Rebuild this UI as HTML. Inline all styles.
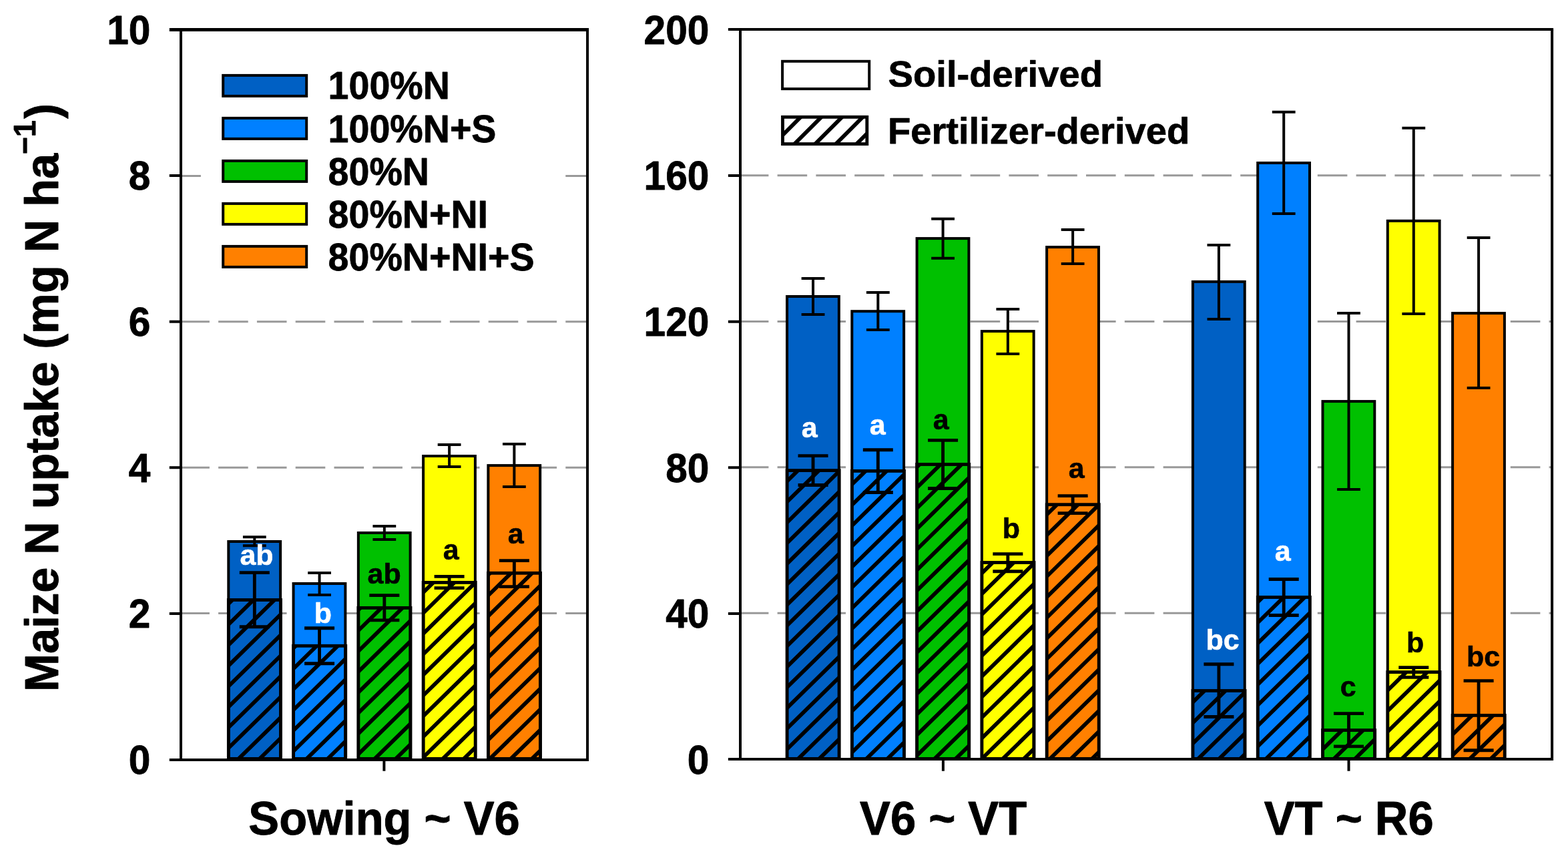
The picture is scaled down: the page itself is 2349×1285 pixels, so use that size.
<!DOCTYPE html>
<html lang="en"><head><meta charset="utf-8"><title>Maize N uptake</title>
<style>html,body{margin:0;padding:0;background:#fff;overflow:hidden}svg{display:block}text{font-family:"Liberation Sans", sans-serif;font-weight:bold;fill:#000;stroke:#000;stroke-linejoin:round}.t{font-size:58.6px;text-anchor:end;stroke-width:.8}.x{font-size:68.7px;text-anchor:middle;stroke-width:.9}.y{font-size:68.45px;text-anchor:start;stroke-width:.9}.l{font-size:55.6px;stroke-width:.75}.m{font-size:56.15px;stroke-width:.75}.s{font-size:43px;text-anchor:middle;stroke-width:.6}.es{stroke:#000;stroke-width:4;fill:none}.eh{stroke:#000;stroke-width:4.85;fill:none}.g{stroke:#999999;stroke-width:3;stroke-dasharray:44.6 13.2;fill:none}.h{stroke:#000;stroke-width:5.8;fill:none}.b{stroke:#000;stroke-width:4}.hb{stroke:#000;stroke-width:4.85;fill:none}.a{stroke:#000;stroke-width:4;fill:none}</style></head><body>
<svg width="2349" height="1285" viewBox="0 0 2349 1285">
<rect width="2349" height="1285" fill="#fff"/>
<line class="g" x1="269.3" y1="918.5" x2="880.05" y2="918.5"/>
<line class="g" x1="269.3" y1="700.3" x2="880.05" y2="700.3"/>
<line class="g" x1="269.3" y1="481.7" x2="880.05" y2="481.7"/>
<line class="g" x1="269.3" y1="263.5" x2="880.05" y2="263.5"/>
<line class="g" x1="1106.8" y1="918.3" x2="2325.1" y2="918.3"/>
<line class="g" x1="1106.8" y1="699.8" x2="2325.1" y2="699.8"/>
<line class="g" x1="1106.8" y1="481.5" x2="2325.1" y2="481.5"/>
<line class="g" x1="1106.8" y1="262.8" x2="2325.1" y2="262.8"/>
<defs>
<clipPath id="c0"><rect x="342.35" y="898.5" width="78.1" height="237.9"/></clipPath>
<clipPath id="c1"><rect x="439.62" y="967.3" width="78.1" height="169.1"/></clipPath>
<clipPath id="c2"><rect x="536.89" y="910.4" width="78.1" height="226"/></clipPath>
<clipPath id="c3"><rect x="634.16" y="872.4" width="78.1" height="264"/></clipPath>
<clipPath id="c4"><rect x="731.43" y="858.3" width="78.1" height="278.1"/></clipPath>
<clipPath id="c5"><rect x="1179.1" y="704.6" width="78.1" height="431.8"/></clipPath>
<clipPath id="c6"><rect x="1276.37" y="705.4" width="78.1" height="431"/></clipPath>
<clipPath id="c7"><rect x="1373.64" y="695.5" width="78.1" height="440.9"/></clipPath>
<clipPath id="c8"><rect x="1470.91" y="842.5" width="78.1" height="293.9"/></clipPath>
<clipPath id="c9"><rect x="1568.18" y="755.7" width="78.1" height="380.7"/></clipPath>
<clipPath id="c10"><rect x="1786.95" y="1034.5" width="78.1" height="101.9"/></clipPath>
<clipPath id="c11"><rect x="1884.25" y="894.5" width="78.1" height="241.9"/></clipPath>
<clipPath id="c12"><rect x="1981.55" y="1093.6" width="78.1" height="42.8"/></clipPath>
<clipPath id="c13"><rect x="2078.85" y="1006.6" width="78.1" height="129.8"/></clipPath>
<clipPath id="c14"><rect x="2176.15" y="1071.4" width="78.1" height="65"/></clipPath>
<clipPath id="cl"><rect x="1172.5" y="175.3" width="126.3" height="40.3"/></clipPath>
<clipPath id="cs"><rect x="1320" y="70" width="340" height="60.3"/></clipPath>
</defs>
<rect class="b" x="342.3" y="811" width="77.8" height="325.4" fill="#0060C4"/>
<path class="h" clip-path="url(#c0)" d="M341.35 905.21L421.45 826.71M341.35 936.08L421.45 857.58M341.35 966.95L421.45 888.45M341.35 997.82L421.45 919.32M341.35 1028.69L421.45 950.19M341.35 1059.56L421.45 981.06M341.35 1090.43L421.45 1011.93M341.35 1121.3L421.45 1042.8M341.35 1152.17L421.45 1073.67M341.35 1183.04L421.45 1104.54M341.35 1213.91L421.45 1135.41"/>
<rect class="hb" x="342.35" y="898.5" width="78.1" height="237.9"/>
<path class="eh" d="M358.8 857.6h45M358.8 938.7h45M381.3 857.6V938.7"/>
<path class="es" d="M363.9 804.2h34.8M363.9 817.3h34.8M381.3 804.2V817.3"/>
<rect class="b" x="439.57" y="874" width="77.8" height="262.4" fill="#0080FF"/>
<path class="h" clip-path="url(#c1)" d="M438.62 971.56L518.72 893.06M438.62 1002.43L518.72 923.93M438.62 1033.3L518.72 954.8M438.62 1064.17L518.72 985.67M438.62 1095.04L518.72 1016.54M438.62 1125.91L518.72 1047.41M438.62 1156.78L518.72 1078.28M438.62 1187.65L518.72 1109.15M438.62 1218.52L518.72 1140.02"/>
<rect class="hb" x="439.62" y="967.3" width="78.1" height="169.1"/>
<path class="eh" d="M456.07 940.7h45M456.07 993.7h45M478.57 940.7V993.7"/>
<path class="es" d="M461.17 858.1h34.8M461.17 891h34.8M478.57 858.1V891"/>
<rect class="b" x="536.84" y="798" width="77.8" height="338.4" fill="#00C000"/>
<path class="h" clip-path="url(#c2)" d="M535.89 914.43L615.99 835.93M535.89 945.3L615.99 866.8M535.89 976.17L615.99 897.67M535.89 1007.04L615.99 928.54M535.89 1037.91L615.99 959.41M535.89 1068.78L615.99 990.28M535.89 1099.65L615.99 1021.15M535.89 1130.52L615.99 1052.02M535.89 1161.39L615.99 1082.89M535.89 1192.26L615.99 1113.76"/>
<rect class="hb" x="536.89" y="910.4" width="78.1" height="226"/>
<path class="eh" d="M553.34 891.6h45M553.34 928.9h45M575.84 891.6V928.9"/>
<path class="es" d="M558.44 788.1h34.8M558.44 807.9h34.8M575.84 788.1V807.9"/>
<rect class="b" x="634.11" y="683" width="77.8" height="453.4" fill="#FFFF00"/>
<path class="h" clip-path="url(#c3)" d="M633.16 888.17L713.26 809.67M633.16 919.04L713.26 840.54M633.16 949.91L713.26 871.41M633.16 980.78L713.26 902.28M633.16 1011.65L713.26 933.15M633.16 1042.52L713.26 964.02M633.16 1073.39L713.26 994.89M633.16 1104.26L713.26 1025.76M633.16 1135.13L713.26 1056.63M633.16 1166L713.26 1087.5M633.16 1196.87L713.26 1118.37"/>
<rect class="hb" x="634.16" y="872.4" width="78.1" height="264"/>
<path class="eh" d="M650.61 863.4h45M650.61 880.6h45M673.11 863.4V880.6"/>
<path class="es" d="M655.71 665.9h34.8M655.71 699.1h34.8M673.11 665.9V699.1"/>
<rect class="b" x="731.38" y="697.1" width="77.8" height="439.3" fill="#FF8000"/>
<path class="h" clip-path="url(#c4)" d="M730.43 861.91L810.53 783.41M730.43 892.78L810.53 814.28M730.43 923.65L810.53 845.15M730.43 954.52L810.53 876.02M730.43 985.39L810.53 906.89M730.43 1016.26L810.53 937.76M730.43 1047.13L810.53 968.63M730.43 1078L810.53 999.5M730.43 1108.87L810.53 1030.37M730.43 1139.74L810.53 1061.24M730.43 1170.61L810.53 1092.11M730.43 1201.48L810.53 1122.98"/>
<rect class="hb" x="731.43" y="858.3" width="78.1" height="278.1"/>
<path class="eh" d="M747.88 839.6h45M747.88 878.6h45M770.38 839.6V878.6"/>
<path class="es" d="M752.98 665h34.8M752.98 729h34.8M770.38 665V729"/>
<rect class="b" x="1179.05" y="444" width="77.8" height="692.4" fill="#0060C4"/>
<path class="h" clip-path="url(#c5)" d="M1178.1 721.58L1258.2 643.08M1178.1 752.45L1258.2 673.95M1178.1 783.32L1258.2 704.82M1178.1 814.19L1258.2 735.69M1178.1 845.06L1258.2 766.56M1178.1 875.93L1258.2 797.43M1178.1 906.8L1258.2 828.3M1178.1 937.67L1258.2 859.17M1178.1 968.54L1258.2 890.04M1178.1 999.41L1258.2 920.91M1178.1 1030.28L1258.2 951.78M1178.1 1061.15L1258.2 982.65M1178.1 1092.02L1258.2 1013.52M1178.1 1122.89L1258.2 1044.39M1178.1 1153.76L1258.2 1075.26M1178.1 1184.63L1258.2 1106.13M1178.1 1215.5L1258.2 1137"/>
<rect class="hb" x="1179.1" y="704.6" width="78.1" height="431.8"/>
<path class="eh" d="M1195.55 682.6h45M1195.55 726.5h45M1218.05 682.6V726.5"/>
<path class="es" d="M1200.65 417h34.8M1200.65 470.9h34.8M1218.05 417V470.9"/>
<rect class="b" x="1276.32" y="466.2" width="77.8" height="670.2" fill="#0080FF"/>
<path class="h" clip-path="url(#c6)" d="M1275.37 726.38L1355.47 647.88M1275.37 757.25L1355.47 678.75M1275.37 788.12L1355.47 709.62M1275.37 818.99L1355.47 740.49M1275.37 849.86L1355.47 771.36M1275.37 880.73L1355.47 802.23M1275.37 911.6L1355.47 833.1M1275.37 942.47L1355.47 863.97M1275.37 973.34L1355.47 894.84M1275.37 1004.21L1355.47 925.71M1275.37 1035.08L1355.47 956.58M1275.37 1065.95L1355.47 987.45M1275.37 1096.82L1355.47 1018.32M1275.37 1127.69L1355.47 1049.19M1275.37 1158.56L1355.47 1080.06M1275.37 1189.43L1355.47 1110.93M1275.37 1220.3L1355.47 1141.8"/>
<rect class="hb" x="1276.37" y="705.4" width="78.1" height="431"/>
<path class="eh" d="M1292.82 673.7h45M1292.82 737.5h45M1315.32 673.7V737.5"/>
<path class="es" d="M1297.92 438.1h34.8M1297.92 493.9h34.8M1315.32 438.1V493.9"/>
<rect class="b" x="1373.59" y="357.1" width="77.8" height="779.3" fill="#00C000"/>
<path class="h" clip-path="url(#c7)" d="M1372.64 700.31L1452.74 621.81M1372.64 731.18L1452.74 652.68M1372.64 762.05L1452.74 683.55M1372.64 792.92L1452.74 714.42M1372.64 823.79L1452.74 745.29M1372.64 854.66L1452.74 776.16M1372.64 885.53L1452.74 807.03M1372.64 916.4L1452.74 837.9M1372.64 947.27L1452.74 868.77M1372.64 978.14L1452.74 899.64M1372.64 1009.01L1452.74 930.51M1372.64 1039.88L1452.74 961.38M1372.64 1070.75L1452.74 992.25M1372.64 1101.62L1452.74 1023.12M1372.64 1132.49L1452.74 1053.99M1372.64 1163.36L1452.74 1084.86M1372.64 1194.23L1452.74 1115.73"/>
<rect class="hb" x="1373.64" y="695.5" width="78.1" height="440.9"/>
<path class="eh" d="M1390.09 659.4h45M1390.09 731.5h45M1412.59 659.4V731.5"/>
<path class="es" d="M1395.19 327.8h34.8M1395.19 386.8h34.8M1412.59 327.8V386.8"/>
<rect class="b" x="1470.86" y="496.1" width="77.8" height="640.3" fill="#FFFF00"/>
<path class="h" clip-path="url(#c8)" d="M1469.91 859.46L1550.01 780.96M1469.91 890.33L1550.01 811.83M1469.91 921.2L1550.01 842.7M1469.91 952.07L1550.01 873.57M1469.91 982.94L1550.01 904.44M1469.91 1013.81L1550.01 935.31M1469.91 1044.68L1550.01 966.18M1469.91 1075.55L1550.01 997.05M1469.91 1106.42L1550.01 1027.92M1469.91 1137.29L1550.01 1058.79M1469.91 1168.16L1550.01 1089.66M1469.91 1199.03L1550.01 1120.53"/>
<rect class="hb" x="1470.91" y="842.5" width="78.1" height="293.9"/>
<path class="eh" d="M1487.36 829.6h45M1487.36 855.7h45M1509.86 829.6V855.7"/>
<path class="es" d="M1492.46 462.9h34.8M1492.46 530h34.8M1509.86 462.9V530"/>
<rect class="b" x="1568.13" y="370.1" width="77.8" height="766.3" fill="#FF8000"/>
<path class="h" clip-path="url(#c9)" d="M1567.18 771.65L1647.28 693.15M1567.18 802.52L1647.28 724.02M1567.18 833.39L1647.28 754.89M1567.18 864.26L1647.28 785.76M1567.18 895.13L1647.28 816.63M1567.18 926L1647.28 847.5M1567.18 956.87L1647.28 878.37M1567.18 987.74L1647.28 909.24M1567.18 1018.61L1647.28 940.11M1567.18 1049.48L1647.28 970.98M1567.18 1080.35L1647.28 1001.85M1567.18 1111.22L1647.28 1032.72M1567.18 1142.09L1647.28 1063.59M1567.18 1172.96L1647.28 1094.46M1567.18 1203.83L1647.28 1125.33"/>
<rect class="hb" x="1568.18" y="755.7" width="78.1" height="380.7"/>
<path class="eh" d="M1584.63 742.6h45M1584.63 768.6h45M1607.13 742.6V768.6"/>
<path class="es" d="M1589.73 344.1h34.8M1589.73 395.1h34.8M1607.13 344.1V395.1"/>
<rect class="b" x="1786.9" y="421.9" width="77.8" height="714.5" fill="#0060C4"/>
<path class="h" clip-path="url(#c10)" d="M1785.95 1052.64L1866.05 974.14M1785.95 1083.51L1866.05 1005.01M1785.95 1114.38L1866.05 1035.88M1785.95 1145.25L1866.05 1066.75M1785.95 1176.12L1866.05 1097.62M1785.95 1206.99L1866.05 1128.49"/>
<rect class="hb" x="1786.95" y="1034.5" width="78.1" height="101.9"/>
<path class="eh" d="M1803.4 994.7h45M1803.4 1073.5h45M1825.9 994.7V1073.5"/>
<path class="es" d="M1808.5 367h34.8M1808.5 478.1h34.8M1825.9 367V478.1"/>
<rect class="b" x="1884.2" y="244" width="77.8" height="892.4" fill="#0080FF"/>
<path class="h" clip-path="url(#c11)" d="M1883.25 902.65L1963.35 824.15M1883.25 933.52L1963.35 855.02M1883.25 964.39L1963.35 885.89M1883.25 995.26L1963.35 916.76M1883.25 1026.13L1963.35 947.63M1883.25 1057L1963.35 978.5M1883.25 1087.87L1963.35 1009.37M1883.25 1118.74L1963.35 1040.24M1883.25 1149.61L1963.35 1071.11M1883.25 1180.48L1963.35 1101.98M1883.25 1211.35L1963.35 1132.85"/>
<rect class="hb" x="1884.25" y="894.5" width="78.1" height="241.9"/>
<path class="eh" d="M1900.7 867.5h45M1900.7 921.5h45M1923.2 867.5V921.5"/>
<path class="es" d="M1905.8 167.8h34.8M1905.8 320h34.8M1923.2 167.8V320"/>
<rect class="b" x="1981.5" y="601.1" width="77.8" height="535.3" fill="#00C000"/>
<path class="h" clip-path="url(#c12)" d="M1980.55 1092.23L2060.65 1013.73M1980.55 1123.1L2060.65 1044.6M1980.55 1153.97L2060.65 1075.47M1980.55 1184.84L2060.65 1106.34M1980.55 1215.71L2060.65 1137.21"/>
<rect class="hb" x="1981.55" y="1093.6" width="78.1" height="42.8"/>
<path class="eh" d="M1998 1068.6h45M1998 1117.8h45M2020.5 1068.6V1117.8"/>
<path class="es" d="M2003.1 469h34.8M2003.1 733.1h34.8M2020.5 469V733.1"/>
<rect class="b" x="2078.8" y="330.8" width="77.8" height="805.6" fill="#FFFF00"/>
<path class="h" clip-path="url(#c13)" d="M2077.85 1003.98L2157.95 925.48M2077.85 1034.85L2157.95 956.35M2077.85 1065.72L2157.95 987.22M2077.85 1096.59L2157.95 1018.09M2077.85 1127.46L2157.95 1048.96M2077.85 1158.33L2157.95 1079.83M2077.85 1189.2L2157.95 1110.7M2077.85 1220.07L2157.95 1141.57"/>
<rect class="hb" x="2078.85" y="1006.6" width="78.1" height="129.8"/>
<path class="eh" d="M2095.3 999.6h45M2095.3 1014.3h45M2117.8 999.6V1014.3"/>
<path class="es" d="M2100.4 191.8h34.8M2100.4 470h34.8M2117.8 191.8V470"/>
<rect class="b" x="2176.1" y="469.1" width="77.8" height="667.3" fill="#FF8000"/>
<path class="h" clip-path="url(#c14)" d="M2175.15 1070.08L2255.25 991.58M2175.15 1100.95L2255.25 1022.45M2175.15 1131.82L2255.25 1053.32M2175.15 1162.69L2255.25 1084.19M2175.15 1193.56L2255.25 1115.06"/>
<rect class="hb" x="2176.15" y="1071.4" width="78.1" height="65"/>
<path class="eh" d="M2192.6 1019.6h45M2192.6 1123.7h45M2215.1 1019.6V1123.7"/>
<path class="es" d="M2197.7 355.9h34.8M2197.7 581h34.8M2215.1 355.9V581"/>
<text class="s" x="384.5" y="846.2" style="fill:#fff;stroke:#fff">ab</text>
<text class="s" x="483.9" y="933" style="fill:#fff;stroke:#fff">b</text>
<text class="s" x="575.6" y="874.1" style="fill:#000;stroke:#000">ab</text>
<text class="s" x="675.7" y="838.1" style="fill:#000;stroke:#000">a</text>
<text class="s" x="772.8" y="814.2" style="fill:#000;stroke:#000">a</text>
<text class="s" x="1212.6" y="655.2" style="fill:#fff;stroke:#fff">a</text>
<text class="s" x="1314.8" y="651.1" style="fill:#fff;stroke:#fff">a</text>
<text class="s" x="1409.8" y="643.2" style="fill:#000;stroke:#000">a</text>
<text class="s" x="1514.9" y="806" style="fill:#000;stroke:#000">b</text>
<text class="s" x="1612.8" y="715.9" style="fill:#000;stroke:#000">a</text>
<text class="s" x="1831.5" y="973" style="fill:#fff;stroke:#fff">bc</text>
<text class="s" x="1921.7" y="840" style="fill:#fff;stroke:#fff">a</text>
<text class="s" x="2019.6" y="1043" style="fill:#000;stroke:#000">c</text>
<text class="s" x="2120.2" y="977" style="fill:#000;stroke:#000">b</text>
<text class="s" x="2222.2" y="998.1" style="fill:#000;stroke:#000">bc</text>
<path class="a" d="M271 44.5V1138H880.05V44.5"/>
<path class="a" style="stroke-width:5" d="M253.8 44.5H882.05"/>
<path class="a" d="M253.8 1138H271M253.8 919H271M253.8 700.33H271M253.8 481.66H271M253.8 262.99H271M575.4 1138V1154.8"/>
<text class="t" transform="translate(225.4 1158.87) scale(1 1.04)">0</text>
<text class="t" transform="translate(225.4 940.2) scale(1 1.04)">2</text>
<text class="t" transform="translate(225.4 721.53) scale(1 1.04)">4</text>
<text class="t" transform="translate(225.4 502.86) scale(1 1.04)">6</text>
<text class="t" transform="translate(225.4 284.19) scale(1 1.04)">8</text>
<text class="t" transform="translate(225.4 65.52) scale(1 1.04)">10</text>
<text class="x" transform="translate(575.6 1250.45) scale(1 1.0345)">Sowing ~ V6</text>
<path class="a" d="M1109 44V1137H2325.1V44"/>
<path class="a" style="stroke-width:4" d="M1090.9 44H2327.1"/>
<path class="a" d="M1090.9 1137H1109M1090.9 919H1109M1090.9 700.33H1109M1090.9 481.66H1109M1090.9 262.99H1109M1412.9 1137V1154.8M2020.5 1137V1154.8"/>
<text class="t" transform="translate(1062.3 1158.87) scale(1 1.04)">0</text>
<text class="t" transform="translate(1062.3 940.2) scale(1 1.04)">40</text>
<text class="t" transform="translate(1062.3 721.53) scale(1 1.04)">80</text>
<text class="t" transform="translate(1062.3 502.86) scale(1 1.04)">120</text>
<text class="t" transform="translate(1062.3 284.19) scale(1 1.04)">160</text>
<text class="t" transform="translate(1062.3 65.52) scale(1 1.04)">200</text>
<text class="x" transform="translate(1413.1 1250.45) scale(1 1.0345)">V6 ~ VT</text>
<text class="x" transform="translate(2020.7 1250.45) scale(1 1.0345)">VT ~ R6</text>
<text class="y" transform="translate(87.25 1036.1) rotate(-90) scale(1 1.035)">Maize N uptake (mg N ha<tspan style="font-size:44.5px" dy="-33" dx="-1">−1</tspan><tspan dy="33" dx="2.6">)</tspan></text>
<rect x="300.9" y="96" width="540" height="326" fill="#fff"/>
<rect x="334.2" y="112.9" width="125" height="31" fill="#0060C4" stroke="#000" stroke-width="4"/>
<text class="l" transform="translate(491.6 147.6) scale(1 1.0256)">100%N</text>
<rect x="334.2" y="176.9" width="125" height="31" fill="#0080FF" stroke="#000" stroke-width="4"/>
<text class="l" transform="translate(491.6 212.5) scale(1 1.0256)">100%N+S</text>
<rect x="334.2" y="240.9" width="125" height="31" fill="#00C000" stroke="#000" stroke-width="4"/>
<text class="l" transform="translate(491.6 276.5) scale(1 1.0256)">80%N</text>
<rect x="334.2" y="304.9" width="125" height="31" fill="#FFFF00" stroke="#000" stroke-width="4"/>
<text class="l" transform="translate(491.6 340.5) scale(1 1.0256)">80%N+NI</text>
<rect x="334.2" y="368.9" width="125" height="31" fill="#FF8000" stroke="#000" stroke-width="4"/>
<text class="l" transform="translate(491.6 404.5) scale(1 1.0256)">80%N+NI+S</text>
<rect x="1172.1" y="91.8" width="130.1" height="41.3" fill="#fff" stroke="#000" stroke-width="4"/>
<g clip-path="url(#cs)"><text class="m" x="1330.6" y="129.7">Soil-derived</text></g>
<path class="h" clip-path="url(#cl)" d="M1166 177.81L1306 37.81M1166 208.81L1306 68.81M1166 239.81L1306 99.81M1166 270.81L1306 130.81M1166 301.81L1306 161.81M1166 332.81L1306 192.81M1166 363.81L1306 223.81M1166 394.81L1306 254.81"/>
<rect class="hb" x="1172.5" y="175.3" width="126.3" height="40.3"/>
<text class="m" x="1329.9" y="214.5">Fertilizer-derived</text>
</svg></body></html>
